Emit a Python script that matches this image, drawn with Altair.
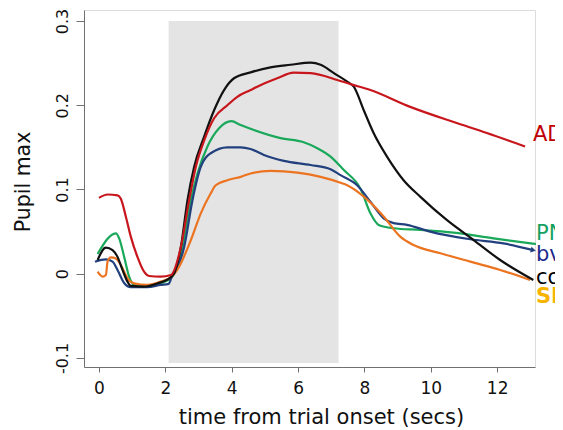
import altair as alt
import pandas as pd

# ---- data ----
ad_x = [0, 0.26, 0.56, 0.66, 0.81, 0.96, 1.16, 1.36, 1.51, 1.86, 2.17, 2.47, 2.72, 2.92, 3.17, 3.47, 3.87, 4.17, 4.57, 4.77, 5.37, 5.87, 6.38, 7.18, 7.58, 8.18, 9.38, 10.69, 11.69, 12.84]
ad_y = [0.090, 0.094, 0.093, 0.089, 0.068, 0.044, 0.020, 0.0024, -0.0027, -0.0035, -0.0015, 0.032, 0.0876, 0.127, 0.158, 0.1845, 0.200, 0.210, 0.218, 0.222, 0.232, 0.2387, 0.238, 0.230, 0.225, 0.218, 0.198, 0.180, 0.167, 0.151]

pn_x = [-0.04, 0.51, 0.61, 0.76, 0.91, 1.06, 1.46, 1.86, 2.17, 2.27, 2.52, 2.77, 2.97, 3.27, 3.62, 3.99, 4.27, 4.67, 5.47, 6.17, 6.58, 6.98, 7.38, 7.88, 8.18, 8.43, 8.88, 9.68, 10.69, 11.89, 13.17]
pn_y = [0.0234, 0.048, 0.042, 0.020, -0.0035, -0.0133, -0.0153, -0.0114, -0.0054, 0.0005, 0.032, 0.0876, 0.119, 0.151, 0.1726, 0.181, 0.1765, 0.1706, 0.161, 0.156, 0.149, 0.139, 0.123, 0.101, 0.0717, 0.0579, 0.054, 0.052, 0.0487, 0.042, 0.0353]

bvf_x = [-0.12, 0.21, 0.41, 0.56, 0.76, 0.96, 1.46, 1.86, 2.1, 2.2, 2.35, 2.57, 2.82, 3.07, 3.37, 3.87, 4.27, 4.57, 4.97, 5.57, 6.38, 6.98, 7.28, 7.78, 8.18, 8.58, 8.88, 9.28, 9.98, 11.19, 12.19, 13.09]
bvf_y = [0.0143, 0.017, 0.0143, 0.0045, -0.011, -0.016, -0.016, -0.0133, -0.012, -0.003, 0.006, 0.032, 0.0876, 0.127, 0.143, 0.150, 0.150, 0.148, 0.141, 0.134, 0.129, 0.124, 0.117, 0.105, 0.0855, 0.0658, 0.060, 0.058, 0.050, 0.0409, 0.036, 0.028]

con_x = [-0.04, 0.21, 0.41, 0.56, 0.71, 0.86, 0.96, 1.36, 1.77, 2.17, 2.27, 2.47, 2.67, 2.87, 3.17, 3.47, 3.77, 4.07, 4.57, 5.17, 5.77, 6.38, 6.68, 7.08, 7.48, 7.68, 7.98, 8.28, 8.68, 9.18, 9.68, 10.48, 11.29, 12.09, 13.09]
con_y = [0.0163, 0.031, 0.028, 0.020, 0.0045, -0.0094, -0.0145, -0.0153, -0.0114, -0.004, 0.0005, 0.032, 0.0876, 0.127, 0.1627, 0.194, 0.218, 0.232, 0.239, 0.245, 0.248, 0.2505, 0.248, 0.238, 0.228, 0.222, 0.194, 0.1667, 0.139, 0.111, 0.0915, 0.0638, 0.040, 0.0163, -0.0074]

sd_x = [-0.04, 0.11, 0.21, 0.26, 0.36, 0.51, 0.66, 0.86, 1.06, 1.46, 1.86, 2.21, 2.36, 2.77, 3.07, 3.37, 3.52, 3.87, 4.27, 4.57, 5.17, 5.98, 6.68, 7.28, 7.48, 7.98, 8.58, 9.08, 9.48, 10.29, 11.19, 12.09, 12.99]
sd_y = [0.0024, -0.0035, -0.0015, 0.0143, 0.0195, 0.018, 0.0104, -0.0054, -0.0114, -0.0133, -0.0094, -0.0027, 0.0045, 0.040, 0.0717, 0.0955, 0.105, 0.111, 0.115, 0.119, 0.122, 0.120, 0.115, 0.108, 0.105, 0.0915, 0.068, 0.044, 0.034, 0.0243, 0.0143, 0.0045, -0.0074]

series_names = ["PN", "bvF", "SD", "con", "AD"]
line_colors = ["#1aa85a", "#22407e", "#ec7420", "#111111", "#c8161d"]

label_names = ["AD", "PN", "bvF", "con"]
label_x = [13.08, 13.17, 13.17, 13.17]
label_y = [0.165, 0.0466, 0.0217, -0.0045]
label_colors = ["#c00000", "#16a060", "#1c2a8c", "#000000"]
bold_label = ["SD"]
bold_x = [13.17]
bold_y = [-0.0282]
bold_color = ["#f6b400"]

shade_x = [2.1, 7.22]
shade_y = [-0.106, 0.3]

x_ticks = [0, 2, 4, 6, 8, 10, 12]
y_ticks = [-0.1, 0, 0.1, 0.2, 0.3]

# ---- build tables ----
series_data = {"AD": (ad_x, ad_y), "PN": (pn_x, pn_y), "bvF": (bvf_x, bvf_y),
               "con": (con_x, con_y), "SD": (sd_x, sd_y)}
rows = []
for name in series_names:
    xs, ys = series_data[name]
    for xv, yv in zip(xs, ys):
        rows.append({"series": name, "t": xv, "v": yv})
lines_df = pd.DataFrame(rows)

labels_df = pd.DataFrame({"label": label_names, "t": label_x, "v": label_y, "c": label_colors})
bold_df = pd.DataFrame({"label": bold_label, "t": bold_x, "v": bold_y, "c": bold_color})
shade_df = pd.DataFrame({"x1": [shade_x[0]], "x2": [shade_x[1]], "y1": [shade_y[0]], "y2": [shade_y[1]]})
arrow_df = pd.DataFrame({"t": [bvf_x[-1]], "v": [bvf_y[-1]]})

xscale = alt.Scale(domain=[-0.45, 13.14], nice=False, zero=False)
yscale = alt.Scale(domain=[-0.1107, 0.313], nice=False, zero=False)

FONT = "DejaVu Sans"

x_axis = alt.Axis(values=x_ticks, format="d", title="time from trial onset (secs)",
                  grid=False, domainColor="#707070", tickColor="#707070", tickSize=5,
                  labelFontSize=17, labelFont=FONT, labelColor="#111111",
                  labelBaseline="alphabetic", labelPadding=21,
                  titleFontSize=21, titleFont=FONT, titleFontWeight="normal", titleColor="#111111",
                  titleX=237, titleY=56, titleAlign="center", titleBaseline="alphabetic")
y_axis = alt.Axis(values=y_ticks, title="Pupil max",
                  labelExpr="datum.value === 0 ? '0' : replace(format(datum.value, '.1f'), '\u2212', '-')",
                  grid=False, domainColor="#707070", tickColor="#707070", tickSize=8,
                  labelFontSize=16, labelFont=FONT, labelColor="#111111", labelAngle=270,
                  labelAlign="center", labelBaseline="alphabetic", labelPadding=9,
                  titleFontSize=20.5, titleFont=FONT, titleFontWeight="normal", titleColor="#111111",
                  titleAngle=270, titleX=-55, titleY=171.5, titleAlign="center", titleBaseline="alphabetic")

shade = alt.Chart(shade_df).mark_rect(color="#e4e4e4").encode(
    x=alt.X("x1:Q", scale=xscale, axis=x_axis),
    x2="x2:Q",
    y=alt.Y("y1:Q", scale=yscale, axis=y_axis),
    y2="y2:Q",
)

lines = alt.Chart(lines_df).mark_line(strokeWidth=2.2, interpolate="monotone").encode(
    x=alt.X("t:Q", scale=xscale),
    y=alt.Y("v:Q", scale=yscale),
    color=alt.Color("series:N", scale=alt.Scale(domain=series_names, range=line_colors), legend=None),
    order="t:Q",
)

arrow = alt.Chart(arrow_df).mark_point(shape="triangle-right", filled=True, size=35, angle=13,
                                        color="#22407e", opacity=1).encode(
    x=alt.X("t:Q", scale=xscale), y=alt.Y("v:Q", scale=yscale))

texts = alt.Chart(labels_df).mark_text(align="left", baseline="middle", fontSize=21, font=FONT).encode(
    x=alt.X("t:Q", scale=xscale), y=alt.Y("v:Q", scale=yscale),
    text="label:N", color=alt.Color("c:N", scale=None))

bold_texts = alt.Chart(bold_df).mark_text(align="left", baseline="middle", fontSize=21, font=FONT,
                                          fontWeight="bold").encode(
    x=alt.X("t:Q", scale=xscale), y=alt.Y("v:Q", scale=yscale),
    text="label:N", color=alt.Color("c:N", scale=None))

chart = alt.layer(shade, lines, arrow, texts, bold_texts).resolve_scale(color="independent").properties(
    width=451, height=357,
    autosize=alt.AutoSizeParams(type="none"),
    padding={"left": 76, "top": 2, "right": 20, "bottom": 63},
).configure_view(stroke=None).configure(background="white")

chart.save("out.html", embed_options={"renderer": "svg", "actions": False})
